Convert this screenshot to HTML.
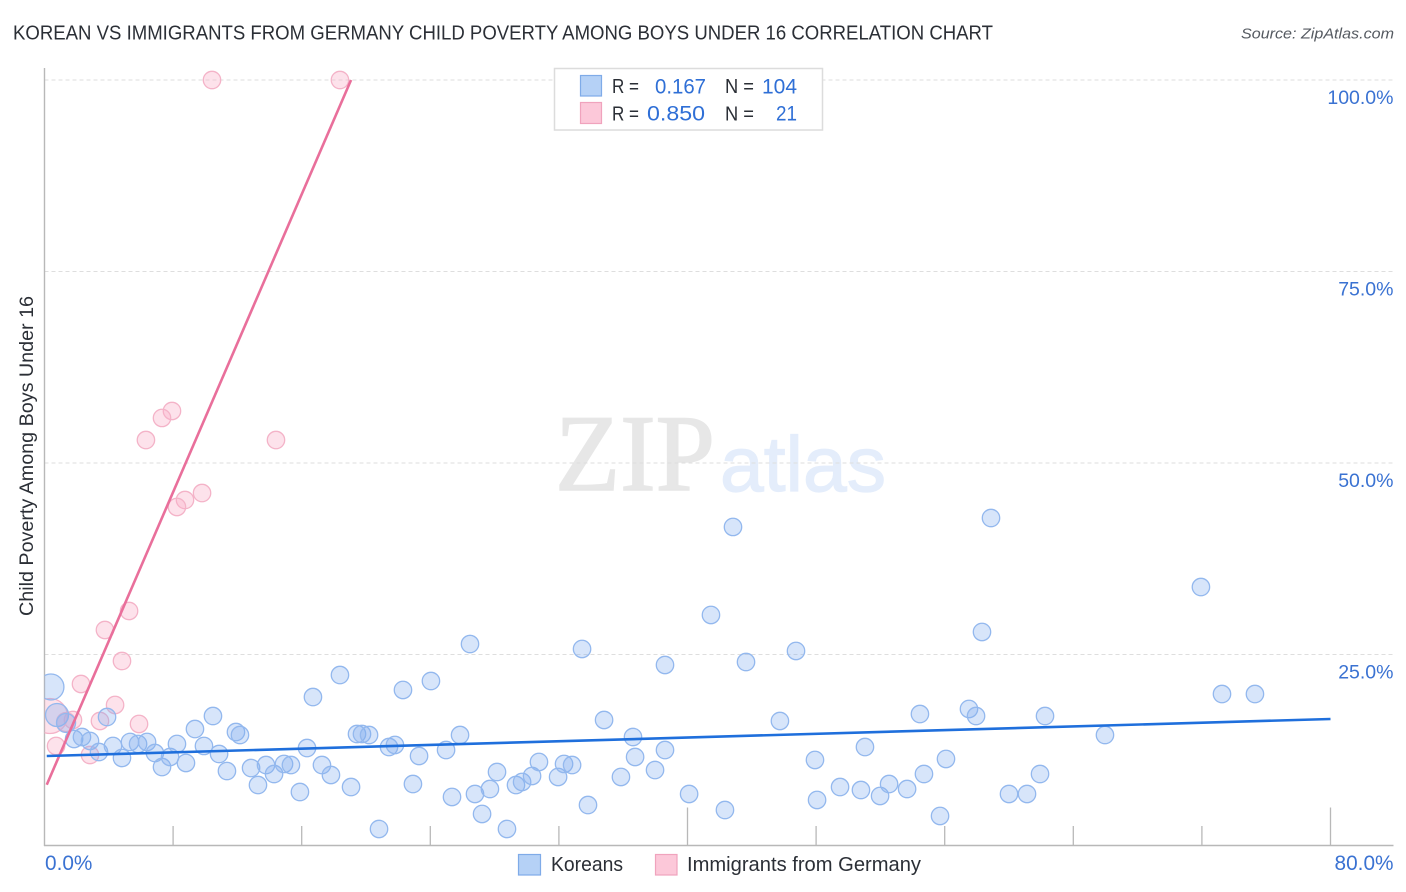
<!DOCTYPE html>
<html lang="en">
<head>
<meta charset="utf-8">
<title>Korean vs Immigrants from Germany Child Poverty Correlation Chart</title>
<style>
html,body{margin:0;padding:0;background:#fff;width:1406px;height:892px;overflow:hidden}
svg{display:block}
text{font-family:"Liberation Sans",sans-serif}
.tick-label{font-size:19.5px;fill:#3a72d2}
.x-label{font-size:20.8px;fill:#3a72d2}
.stat-dark{font-size:20.5px;fill:#2b2f36}
.stat-blue{font-size:21px;fill:#2f6fd6}
.legend-text{font-size:20px;fill:#2b2f36}
</style>
</head>
<body>
<svg id="chart" width="1406" height="892" viewBox="0 0 1406 892" xmlns="http://www.w3.org/2000/svg">
  <defs>
    <clipPath id="plot-clip"><rect x="44.5" y="60" width="1350" height="786"/></clipPath>
  </defs>
  <rect x="0" y="0" width="1406" height="892" fill="#ffffff"/>
  <text x="13" y="39.5" font-size="20px" fill="#2b2f36" textLength="980" lengthAdjust="spacingAndGlyphs">KOREAN VS IMMIGRANTS FROM GERMANY CHILD POVERTY AMONG BOYS UNDER 16 CORRELATION CHART</text>
  <text x="1394" y="38.5" font-size="15px" font-style="italic" fill="#555a61" text-anchor="end" textLength="153" lengthAdjust="spacingAndGlyphs">Source: ZipAtlas.com</text>
  <text x="555" y="490" font-size="109px" fill="#e7e7e7" stroke="#e7e7e7" stroke-width="1.6" style="font-family:'Liberation Serif',serif" textLength="160" lengthAdjust="spacingAndGlyphs">ZIP</text>
  <text x="720" y="491" font-size="78px" fill="#e4edfb" stroke="#e4edfb" stroke-width="1.2" textLength="166" lengthAdjust="spacingAndGlyphs">atlas</text>
  <g id="grid"></g>
  <g id="axes"></g>
  <g id="points" clip-path="url(#plot-clip)"></g>
  <g id="trends"></g>
  <text x="0" y="0" transform="translate(33,456) rotate(-90)" font-size="19px" fill="#2b2f36" text-anchor="middle" textLength="320" lengthAdjust="spacingAndGlyphs">Child Poverty Among Boys Under 16</text>

  <g>
    <rect x="554.5" y="68.5" width="268" height="61.5" fill="#ffffff" stroke="#dcdcdc" stroke-width="1.5"/>
    <rect x="580.5" y="75.5" width="21" height="20.5" fill="#b5d1f6" stroke="#7fabe8" stroke-width="1.2"/>
    <rect x="580.5" y="102.5" width="21" height="21" fill="#fcc8d9" stroke="#f0a3bd" stroke-width="1.2"/>
    <text class="stat-dark" x="612" y="93" textLength="27" lengthAdjust="spacingAndGlyphs">R =</text>
    <text class="stat-blue" x="655" y="93.5" textLength="51" lengthAdjust="spacingAndGlyphs">0.167</text>
    <text class="stat-dark" x="725" y="93" textLength="29" lengthAdjust="spacingAndGlyphs">N =</text>
    <text class="stat-blue" x="762" y="93.5" textLength="35" lengthAdjust="spacingAndGlyphs">104</text>
    <text class="stat-dark" x="612" y="120.5" textLength="27" lengthAdjust="spacingAndGlyphs">R =</text>
    <text class="stat-blue" x="647" y="120.5" textLength="58" lengthAdjust="spacingAndGlyphs">0.850</text>
    <text class="stat-dark" x="725" y="120.5" textLength="29" lengthAdjust="spacingAndGlyphs">N =</text>
    <text class="stat-blue" x="776" y="120.5" textLength="21" lengthAdjust="spacingAndGlyphs">21</text>
  </g>

  <g>
    <rect x="518.5" y="854.5" width="22" height="20.5" fill="#b5d1f6" stroke="#7fabe8" stroke-width="1.2"/>
    <text class="legend-text" x="551" y="871" textLength="72" lengthAdjust="spacingAndGlyphs">Koreans</text>
    <rect x="655.5" y="854.5" width="21.5" height="20.5" fill="#fcc8d9" stroke="#f0a3bd" stroke-width="1.2"/>
    <text class="legend-text" x="687" y="871" textLength="234" lengthAdjust="spacingAndGlyphs">Immigrants from Germany</text>
  </g>
</svg>
<script>
// ---- chart data ----
const yTickValues = [25, 50, 75, 100];
const yTickLabels = ["25.0%", "50.0%", "75.0%", "100.0%"];
const xTickValues = [0, 8, 16, 24, 32, 40, 48, 56, 64, 72, 80];
const xEndLabels = ["0.0%", "80.0%"];
const xMajorTicks = [40, 80];

const koreanX = [0.40,0.78,1.34,3.89,1.84,2.33,2.83,3.39,4.26,4.82,5.32,5.82,6.38,6.87,7.31,7.81,8.24,8.80,9.36,9.92,10.48,10.86,11.35,11.91,12.16,12.85,13.28,13.78,14.28,14.90,15.33,15.89,16.33,17.26,17.82,18.38,16.70,19.07,26.47,33.44,38.60,24.04,22.30,19.44,19.75,20.19,21.43,21.80,23.30,24.98,25.85,22.92,20.81,25.35,26.78,27.71,27.22,28.15,28.77,29.33,29.71,30.33,30.76,31.95,32.32,32.82,33.81,34.81,35.86,36.61,36.74,37.98,38.60,40.10,43.64,46.75,45.75,42.33,47.93,48.06,49.49,50.79,51.04,51.98,52.54,53.66,54.46,54.71,55.71,56.08,57.51,57.95,60.00,61.12,61.93,62.24,65.97,73.25,75.30,42.83,58.88,71.94,41.46,58.32];
const koreanY = [20.76,17.10,16.06,16.84,13.97,14.23,13.71,12.27,13.06,11.49,13.58,13.32,13.58,12.14,10.31,11.62,13.32,10.84,15.27,13.06,16.97,12.01,9.79,14.88,14.49,10.18,7.96,10.57,9.40,10.71,10.57,7.05,12.79,10.57,9.27,22.32,19.45,7.70,26.37,25.72,23.63,21.54,20.37,14.62,14.62,14.49,12.92,13.19,11.75,12.53,14.49,8.09,2.22,6.40,6.79,7.44,4.18,9.66,2.22,7.96,8.36,9.14,10.97,9.01,10.71,10.57,5.35,16.45,9.01,14.23,11.62,9.92,12.53,6.79,24.02,25.46,16.32,4.70,11.23,6.01,7.70,7.31,12.92,6.53,8.09,7.44,17.23,9.40,3.92,11.36,17.89,16.97,6.79,6.79,9.40,16.97,14.49,19.84,19.84,41.65,42.82,33.81,30.16,27.94];
const germanyX = [10.42,18.38,7.93,7.31,6.31,14.40,9.80,8.74,8.24,5.26,3.76,4.82,2.27,4.39,5.88,3.45,1.77,0.72,2.83,0.34,1.34];
const germanyY = [100,100,56.79,55.88,53.00,53.00,46.08,45.17,44.26,30.68,28.20,24.15,21.15,18.41,15.93,16.32,16.45,13.06,11.88,16.97,16.19];

const koreanTrendX = [0.14, 80];
const koreanTrendY = [11.75, 16.58];
const germanyTrendX = [0.14, 19.07];
const germanyTrendY = [8.0, 100];

// ---- axis functions ----
const xAxis = v => 44.5 + 16.075 * v;
const yAxis = v => 846 - 7.66 * v;

const SVG_NS = "http://www.w3.org/2000/svg";
function el(tag, attrs, parent) {
  const node = document.createElementNS(SVG_NS, tag);
  for (const k in attrs) node.setAttribute(k, attrs[k]);
  parent.appendChild(node);
  return node;
}
const gridG = document.getElementById("grid");
const axesG = document.getElementById("axes");
const pointsG = document.getElementById("points");
const trendsG = document.getElementById("trends");

// gridlines and y labels
yTickValues.forEach((v, i) => {
  const line = el("line", {x1: 44.5, x2: 1393, y1: yAxis(v), y2: yAxis(v), stroke: "#dedede", "stroke-width": 1, "stroke-dasharray": "4 3"}, gridG);
  
  
  const label = el("text", {x: 1393.5, y: yAxis(v) + 24, "text-anchor": "end", class: "tick-label"}, axesG);
  
  
  label.textContent = yTickLabels[i];
});

// axis lines
const yLine = el("line", {x1: 44.5, x2: 44.5, y1: 68, y2: 846, stroke: "#b8b8b8", "stroke-width": 1.4}, axesG);


const xLine = el("line", {x1: 44, x2: 1393.5, y1: 845.5, y2: 845.5, stroke: "#b8b8b8", "stroke-width": 1.4}, axesG);



// x ticks
xTickValues.slice(1).forEach(v => {
  const top = xMajorTicks.includes(v) ? 807.5 : 826;
  const tick = el("line", {x1: xAxis(v), x2: xAxis(v), y1: top, y2: 846, stroke: "#b8b8b8", "stroke-width": 1.3}, axesG);
  
  
});
const xStart = el("text", {x: xAxis(0) + 0.5, y: 870, class: "x-label"}, axesG);


xStart.textContent = xEndLabels[0];
const xEnd = el("text", {x: 1393.5, y: 870, "text-anchor": "end", class: "x-label"}, axesG);


xEnd.textContent = xEndLabels[1];

// marker radius rule: low-x points carry larger weight in the source chart
const koreanRadius = i => i === 0 ? 13 : (i === 1 ? 11.5 : (i === 2 ? 9.5 : 8.7));
const germanyRadius = i => i === 19 ? 17.5 : (i === 20 ? 9.5 : 8.7);

germanyX.forEach((x, i) => {
  const c = el("circle", {cx: xAxis(x), cy: yAxis(germanyY[i]), r: germanyRadius(i), fill: "rgba(250,175,200,0.36)", stroke: "#f4b3c8", "stroke-width": 1.3}, pointsG);
  
  
});
koreanX.forEach((x, i) => {
  const c = el("circle", {cx: xAxis(x), cy: yAxis(koreanY[i]), r: koreanRadius(i), fill: "rgba(130,175,240,0.32)", stroke: "#93b8ee", "stroke-width": 1.3}, pointsG);
  
  
});

// trend lines
const germanyLine = el("line", {x1: xAxis(germanyTrendX[0]), y1: yAxis(germanyTrendY[0]), x2: xAxis(germanyTrendX[1]), y2: yAxis(germanyTrendY[1]), stroke: "#e96f9b", "stroke-width": 2.6}, trendsG);


const koreanLine = el("line", {x1: xAxis(koreanTrendX[0]), y1: yAxis(koreanTrendY[0]), x2: xAxis(koreanTrendX[1]), y2: yAxis(koreanTrendY[1]), stroke: "#1f6fdc", "stroke-width": 2.6}, trendsG);


</script>
</body>
</html>
